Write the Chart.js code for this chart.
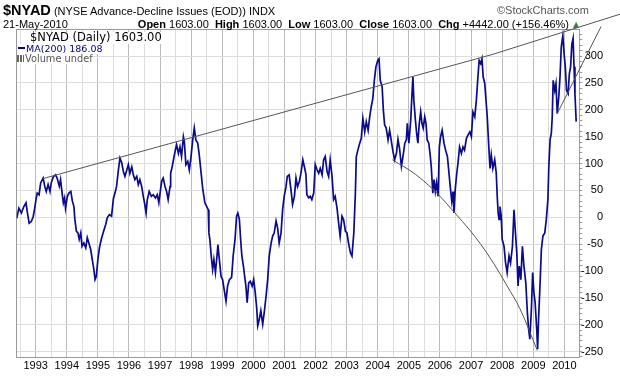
<!DOCTYPE html>
<html>
<head>
<meta charset="utf-8">
<script src="https://cdn.jsdelivr.net/npm/chart.js@4.4.0/dist/chart.umd.min.js"></script>
<style>
body { margin: 0; background: #fff; }
#wrap { position: relative; width: 620px; height: 376px; font-family: "Liberation Sans", Arial, sans-serif; color: #000; }
#myChart { position: absolute; left: 0; top: 0; }
.lbl { position: absolute; white-space: nowrap; line-height: 1; }
.leg { position: absolute; white-space: nowrap; line-height: 1; font-family: "DejaVu Sans", Verdana, sans-serif; background: #fff; }
</style>
</head>
<body>
<div id="wrap">
<canvas id="myChart" width="620" height="376"></canvas>
<div class="lbl" style="left:3px;top:3px;font-size:11px"><b style="font-size:14.5px">$NYAD</b> (NYSE Advance-Decline Issues (EOD)) INDX</div>
<div class="lbl" style="left:497px;top:5px;font-size:11px;color:#555">&copy;StockCharts.com</div>
<div class="lbl" style="left:3px;top:19px;font-size:11px">21-May-2010</div>
<div class="lbl" style="right:51px;top:19px;font-size:11px"><b>Open</b> 1603.00 &nbsp;<b>High</b> 1603.00 &nbsp;<b>Low</b> 1603.00 &nbsp;<b>Close</b> 1603.00 &nbsp;<b>Chg</b> +4442.00 (+156.46%)</div>
<div class="lbl" style="left:573px;top:21px;font-size:8px;color:#3a803a;font-family:'DejaVu Sans'">&#9650;</div>
<div class="leg" style="left:30px;top:32px;font-size:11.5px">$NYAD (Daily) 1603.00</div>
<div class="leg" style="left:18px;top:44px;font-size:9.5px;color:#00008b"><span style="display:inline-block;width:7px;height:2px;background:#00008b;vertical-align:3px;margin-right:1px"></span>MA(200) 186.08</div>
<div class="leg" style="left:17px;top:54px;font-size:9.8px;color:#555"><span style="display:inline-block;width:7px;height:7px;margin-right:1px;background:linear-gradient(90deg,#666 0 2px,#fff 2px 3px,#666 3px 5px,#fff 5px 6px,#666 6px 7px)"></span>Volume undef</div>
</div>
<script>
// $NYAD daily (sampled off the chart), decimal years
const dates = [
1992.39,1992.46,1992.54,1992.62,1992.69,1992.73,1992.79,1992.86,1992.92,1992.97,
1993.01,1993.05,1993.11,1993.16,1993.24,1993.29,1993.34,1993.40,1993.46,1993.50,
1993.57,1993.64,1993.69,1993.76,1993.80,1993.85,1993.89,1993.93,1993.96,1994.02,
1994.07,1994.13,1994.18,1994.23,1994.26,1994.31,1994.36,1994.40,1994.45,1994.49,
1994.55,1994.61,1994.66,1994.71,1994.77,1994.82,1994.87,1994.91,1994.95,1995.00,
1995.05,1995.11,1995.17,1995.25,1995.30,1995.37,1995.44,1995.50,1995.55,1995.60,
1995.66,1995.71,1995.77,1995.82,1995.87,1995.93,1995.98,1996.03,1996.09,1996.14,
1996.19,1996.25,1996.30,1996.35,1996.41,1996.46,1996.50,1996.55,1996.59,1996.65,
1996.72,1996.78,1996.85,1996.91,1996.96,1997.00,1997.05,1997.10,1997.16,1997.21,
1997.26,1997.32,1997.34,1997.39,1997.45,1997.49,1997.53,1997.59,1997.64,1997.69,
1997.75,1997.78,1997.83,1997.89,1997.94,1997.99,1998.05,1998.10,1998.15,1998.21,
1998.26,1998.32,1998.37,1998.44,1998.50,1998.55,1998.57,1998.60,1998.65,1998.69,
1998.73,1998.78,1998.83,1998.86,1998.90,1998.96,1999.01,1999.06,1999.12,1999.17,
1999.23,1999.30,1999.35,1999.41,1999.46,1999.50,1999.55,1999.59,1999.63,1999.68,
1999.72,1999.76,1999.80,1999.85,1999.90,1999.96,2000.01,2000.06,2000.11,2000.14,
2000.19,2000.24,2000.30,2000.35,2000.41,2000.46,2000.51,2000.57,2000.62,2000.67,
2000.73,2000.78,2000.83,2000.89,2000.94,2000.99,2001.05,2001.09,2001.15,2001.21,
2001.26,2001.32,2001.37,2001.42,2001.48,2001.53,2001.59,2001.64,2001.69,2001.72,
2001.78,2001.83,2001.88,2001.94,2001.99,2002.05,2002.10,2002.15,2002.21,2002.26,
2002.31,2002.37,2002.42,2002.47,2002.53,2002.58,2002.63,2002.69,2002.74,2002.79,
2002.85,2002.90,2002.96,2003.01,2003.06,2003.12,2003.17,2003.23,2003.28,2003.31,
2003.36,2003.42,2003.47,2003.52,2003.58,2003.63,2003.69,2003.74,2003.79,2003.84,
2003.89,2003.94,2004.00,2004.04,2004.08,2004.14,2004.18,2004.22,2004.27,2004.33,
2004.38,2004.43,2004.49,2004.54,2004.60,2004.65,2004.70,2004.76,2004.81,2004.87,
2004.92,2004.95,2005.00,2005.06,2005.10,2005.13,2005.16,2005.21,2005.25,2005.29,
2005.33,2005.38,2005.42,2005.46,2005.51,2005.55,2005.59,2005.64,2005.68,2005.72,
2005.77,2005.81,2005.85,2005.89,2005.94,2005.98,2006.02,2006.07,2006.13,2006.18,
2006.24,2006.29,2006.33,2006.38,2006.42,2006.45,2006.49,2006.54,2006.58,2006.63,
2006.69,2006.74,2006.79,2006.85,2006.90,2006.96,2007.01,2007.06,2007.12,2007.17,
2007.22,2007.26,2007.31,2007.35,2007.39,2007.44,2007.48,2007.52,2007.57,2007.61,
2007.65,2007.70,2007.76,2007.81,2007.84,2007.87,2007.90,2007.93,2007.97,2008.00,
2008.06,2008.11,2008.16,2008.22,2008.27,2008.33,2008.38,2008.42,2008.47,2008.51,
2008.55,2008.60,2008.65,2008.70,2008.76,2008.81,2008.85,2008.89,2008.94,2008.98,
2009.02,2009.06,2009.11,2009.14,2009.17,2009.22,2009.26,2009.31,2009.37,2009.42,
2009.47,2009.50,2009.54,2009.58,2009.61,2009.64,2009.69,2009.73,2009.77,2009.82,
2009.86,2009.90,2009.95,2009.99,2010.03,2010.07,2010.12,2010.16,2010.20,2010.24,
2010.28,2010.31,2010.34,2010.38
];
const nyad = [
-2,17,8,20,27,10,-11,-8,1,17,
33,45,42,64,73,58,48,61,48,64,
76,79,73,58,70,45,27,36,17,39,
45,48,30,20,-4,-26,-29,-41,-29,-54,
-48,-57,-38,-48,-60,-79,-97,-116,-110,-79,
-57,-41,-29,-14,-1,5,2,35,45,57,
88,110,101,85,76,88,98,82,94,79,
70,76,61,70,57,39,27,8,33,48,
39,42,36,42,27,45,67,73,57,48,
33,57,82,94,113,125,135,119,131,113,
150,141,98,104,88,110,144,166,144,138,
116,82,54,27,20,14,-29,-41,-75,-97,
-79,-103,-72,-51,-75,-110,-116,-134,-156,-128,
-116,-112,-72,-41,2,8,-4,-41,-72,-91,
-110,-128,-159,-122,-119,-128,-116,-140,-171,-202,
-190,-174,-199,-177,-146,-116,-72,-48,-35,-29,
-7,-20,-48,-29,14,39,57,76,79,51,
24,39,73,57,67,82,107,94,80,42,
36,39,33,45,98,88,82,91,79,107,
113,85,76,107,76,33,39,17,-10,-35,
2,-4,-26,-29,-48,-66,-72,-29,45,113,
125,138,147,184,159,178,162,187,206,221,
255,280,292,295,255,243,199,172,166,144,
162,144,122,107,119,145,128,95,113,138,
144,175,138,181,230,261,218,181,156,138,
172,196,175,166,187,175,144,138,119,94,
45,70,48,64,39,131,150,162,138,125,
113,82,57,30,48,8,51,82,101,131,
119,131,125,147,153,159,150,196,187,218,
261,292,286,295,261,249,218,187,131,91,
116,91,107,82,40,8,-4,20,2,-41,
-54,-85,-103,-72,-85,-54,14,-23,-66,-128,
-91,-116,-54,-91,-122,-177,-208,-227,-171,-103,
-140,-159,-208,-245,-190,-122,-60,-35,-29,-4,
33,94,144,156,187,255,236,249,193,224,
261,317,338,305,280,236,230,267,280,322,
333,280,230,178
];

// hand-drawn trendlines
const upperX = [1993.24, 2007.74, 2011.79];
const upperY = [72, 304, 378];
const curveX = [2004.47, 2005.21, 2005.90, 2006.48, 2006.96, 2007.32, 2007.74, 2008.16, 2008.57, 2009.13];
const curveY = [107, 80, 45, 8, -24, -51, -87, -128, -170, -248];
const steepX = [2009.77, 2011.18];
const steepY = [193, 355];

function pts(xs, ys) {
  return xs.map(function (x, i) { return { x: x, y: ys[i] }; });
}

const tickFont = { family: "Liberation Sans", size: 11 };

new Chart("myChart", {
  type: "line",
  data: {
    datasets: [{
      data: pts(upperX, upperY),
      borderColor: "#555",
      borderWidth: 1,
      pointRadius: 0,
      clip: false,
      order: 0
    }, {
      data: pts(curveX, curveY),
      borderColor: "#555",
      borderWidth: 1,
      pointRadius: 0,
      cubicInterpolationMode: "monotone",
      order: 0
    }, {
      data: pts(steepX, steepY),
      borderColor: "#555",
      borderWidth: 1,
      pointRadius: 0,
      clip: false,
      order: 0
    }, {
      data: pts(dates, nyad),
      borderColor: "#0a0a8c",
      borderWidth: 1.7,
      pointRadius: 0,
      order: 1
    }]
  },
  options: {
    responsive: false,
    animation: false,
    devicePixelRatio: 1,
    layout: { padding: { left: 16.7, top: 29.5, right: 17, bottom: 0 } },
    plugins: { legend: { display: false }, tooltip: { enabled: false } },
    scales: {
      x: {
        type: "linear",
        position: "bottom",
        min: 1992.39,
        max: 2010.48,
        afterFit: function (s) { s.height = 18.5; },
        border: { color: "#999" },
        grid: {
          drawTicks: false,
          color: function (c) { return Number.isInteger(c.tick.value) ? "#bbb" : "#ddd"; }
        },
        ticks: {
          stepSize: 0.5,
          includeBounds: false,
          autoSkip: false,
          maxRotation: 0,
          padding: 2,
          color: "#000",
          font: tickFont,
          callback: function (v) { return Number.isInteger(v) ? String(v) : ""; }
        }
      },
      y: {
        position: "right",
        min: -261,
        max: 349.5,
        afterFit: function (s) { s.width = 23.7; },
        border: { color: "#999" },
        grid: {
          tickLength: 3,
          tickColor: "#999",
          color: function (c) { return c.tick.value % 50 === 0 ? "#ddd" : "rgba(0,0,0,0)"; }
        },
        ticks: {
          stepSize: 10,
          includeBounds: false,
          autoSkip: false,
          crossAlign: "far",
          padding: 0,
          color: "#000",
          font: tickFont,
          callback: function (v) { return v % 50 === 0 ? String(v) : ""; }
        }
      },
      xTop: {
        type: "linear",
        position: "top",
        afterFit: function (s) { s.height = 0; },
        border: { color: "#999" },
        grid: { display: false },
        ticks: { display: false }
      },
      yLeft: {
        type: "linear",
        position: "left",
        afterFit: function (s) { s.width = 0; },
        border: { color: "#999" },
        grid: { display: false },
        ticks: { display: false }
      }
    }
  }
});
</script>
</body>
</html>
